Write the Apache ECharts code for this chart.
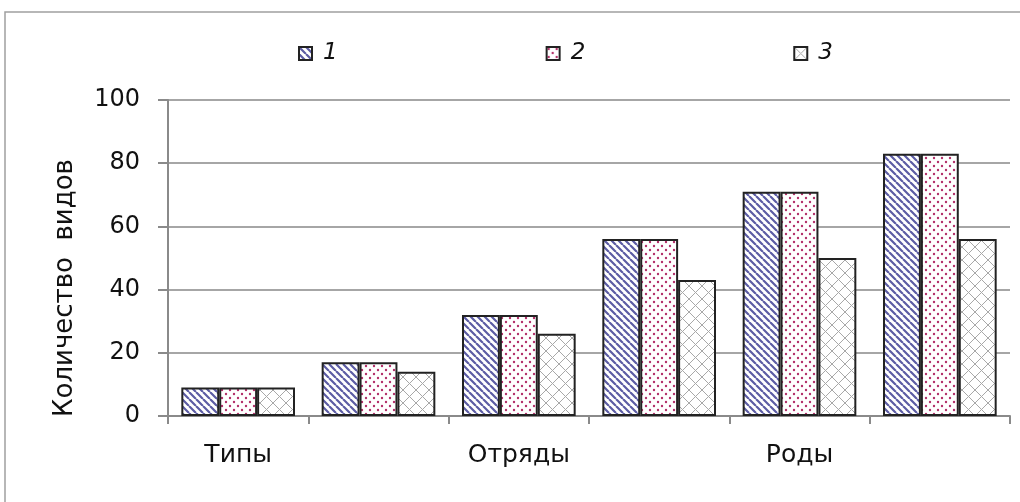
<!doctype html>
<html lang="ru">
<head>
    <meta charset="UTF-8">
    <script src="https://cdn.jsdelivr.net/npm/echarts@6/dist/echarts.min.js"></script>
    <title>Количество видов</title>
    <style>
        body { margin: 0; background: #fff; }
    </style>
</head>
<body>
<!--область графика-->
<div id="main" style="width: 1020px; height: 502px"></div>
<script type="text/javascript">
    // данные
    var categories = ['Типы', '', 'Отряды', '', 'Роды', ''];
    var seriesNames = ['1', '2', '3'];
    var s1 = [9, 17, 32, 56, 71, 83];
    var s2 = [9, 17, 32, 56, 71, 83];
    var s3 = [9, 14, 26, 43, 50, 56];
    var yTicks = { min: 0, max: 100, step: 20 };

    var font = 'DejaVu Sans, Verdana, sans-serif';

    // штриховки для столбцов
    function stripes() {
        var c = document.createElement('canvas');
        var s = 7;
        c.width = s; c.height = s;
        var g = c.getContext('2d');
        g.fillStyle = '#fff';
        g.fillRect(0, 0, s, s);
        g.strokeStyle = '#5c5ca4';
        g.lineWidth = 2.2;
        g.beginPath();
        for (var i = -1; i <= 1; i++) {
            g.moveTo(i * s, 0);
            g.lineTo(i * s + s, s);
        }
        g.stroke();
        return c;
    }
    function dots() {
        var c = document.createElement('canvas');
        var s = 8;
        c.width = s; c.height = s;
        var g = c.getContext('2d');
        g.fillStyle = '#fff';
        g.fillRect(0, 0, s, s);
        g.fillStyle = '#b3306a';
        [[2, 2], [6, 6]].forEach(function (p) {
            g.beginPath();
            g.arc(p[0], p[1], 1.2, 0, Math.PI * 2);
            g.fill();
        });
        return c;
    }
    function cross() {
        var c = document.createElement('canvas');
        var s = 13;
        c.width = s; c.height = s;
        var g = c.getContext('2d');
        g.fillStyle = '#fff';
        g.fillRect(0, 0, s, s);
        g.strokeStyle = '#a8a8a8';
        g.lineWidth = 1;
        g.beginPath();
        g.moveTo(0, 0); g.lineTo(s, s);
        g.moveTo(s, 0); g.lineTo(0, s);
        g.stroke();
        return c;
    }

    var fills = [stripes(), dots(), cross()];
    var values = [s1, s2, s3];

    var series = seriesNames.map(function (name, i) {
        return {
            name: name,
            type: 'bar',
            data: values[i],
            barGap: '0%',
            barCategoryGap: '19%',
            itemStyle: {
                color: { image: fills[i], repeat: 'repeat' },
                borderColor: '#222',
                borderWidth: 2
            }
        };
    });

    var mychart = echarts.init(document.getElementById('main'));
    var option = {
        animation: false,
        backgroundColor: '#fff',
        graphic: [{
            type: 'rect',
            shape: { x: 5, y: 12, width: 1100, height: 600 },
            style: { fill: 'none', stroke: '#a0a0a0', lineWidth: 1.5 },
            z: -1
        }],
        legend: {
            data: seriesNames,
            left: 298,
            top: 42,
            padding: 0,
            icon: 'rect',
            itemWidth: 13,
            itemHeight: 13,
            itemGap: 208,
            textStyle: { fontFamily: font, fontSize: 23, fontStyle: 'italic', color: '#111', padding: [0, 0, 0, 6] }
        },
        grid: { left: 168, right: 10, top: 100, bottom: 86, containLabel: false },
        xAxis: {
            type: 'category',
            data: categories,
            axisLine: { lineStyle: { color: '#8a8a8a', width: 2 } },
            axisTick: { show: true, interval: 0, length: 8, lineStyle: { color: '#8a8a8a', width: 2 } },
            axisLabel: { interval: 0, margin: 27, fontFamily: font, fontSize: 25, color: '#111' }
        },
        yAxis: {
            type: 'value',
            min: yTicks.min,
            max: yTicks.max,
            interval: yTicks.step,
            name: 'Количество  видов',
            nameLocation: 'middle',
            nameGap: 90,
            nameTextStyle: { fontFamily: font, fontSize: 26, color: '#111', padding: [0, 60, 0, 0] },
            axisLine: { show: true, lineStyle: { color: '#8a8a8a', width: 2 } },
            axisTick: { show: true, length: 10, lineStyle: { color: '#8a8a8a', width: 2 } },
            axisLabel: { margin: 28, fontFamily: font, fontSize: 24, color: '#111' },
            splitLine: { lineStyle: { color: '#a6a6a6', width: 2 } }
        },
        series: series
    };
    mychart.setOption(option);
</script>
</body>
</html>
